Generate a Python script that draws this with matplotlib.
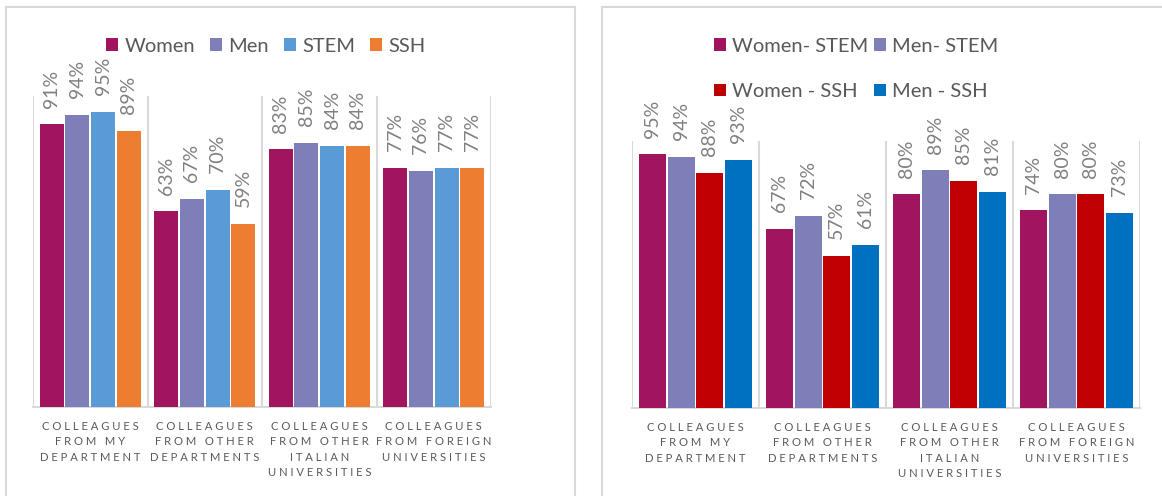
import matplotlib
matplotlib.use("Agg")
from matplotlib import pyplot as plt
from matplotlib.patches import Rectangle

plt.rcParams['font.family'] = ['Lato', 'DejaVu Sans']

categorias = ["COLLEAGUES\nFROM MY\nDEPARTMENT",
              "COLLEAGUES\nFROM OTHER\nDEPARTMENTS",
              "COLLEAGUES\nFROM OTHER\nITALIAN\nUNIVERSITIES",
              "COLLEAGUES\nFROM FOREIGN\nUNIVERSITIES"]

# panel izquierdo
series_izq = ["Women", "Men", "STEM", "SSH"]
women = [0.91, 0.63, 0.83, 0.77]
men = [0.94, 0.67, 0.85, 0.76]
stem = [0.95, 0.70, 0.84, 0.77]
ssh = [0.89, 0.59, 0.84, 0.77]
colores_izq = ["#A0155E", "#7E7EB8", "#5B9BD5", "#ED7D31"]

# panel derecho
series_der = ["Women- STEM", "Men- STEM", "Women - SSH", "Men - SSH"]
women_stem = [0.95, 0.67, 0.80, 0.74]
men_stem = [0.94, 0.72, 0.89, 0.80]
women_ssh = [0.88, 0.57, 0.85, 0.80]
men_ssh = [0.93, 0.61, 0.81, 0.73]
colores_der = ["#A0155E", "#7E7EB8", "#C00000", "#0070C0"]

W, H = 1162, 496
fig = plt.figure(figsize=(W / 100, H / 100), dpi=100)

# marcos de los paneles
fig.patches.append(Rectangle((6 / W, -0.1), (575 - 6) / W, 1.1 - 7 / H,
                             transform=fig.transFigure, fill=False,
                             edgecolor="#d9d9d9", lw=1.5))
fig.patches.append(Rectangle((602 / W, -0.1), 0.6, 1.1 - 7 / H,
                             transform=fig.transFigure, fill=False,
                             edgecolor="#d9d9d9", lw=1.5))


def espaciar(texto):
    lineas = []
    for linea in texto.split("\n"):
        palabras = [" ".join(p) for p in linea.split(" ")]
        lineas.append("   ".join(palabras))
    return "\n".join(lineas)


def dibuja(ax, datos, nombres, colores):
    n = len(datos)
    paso = 0.224
    barras = []
    for i, (vals, nom, col) in enumerate(zip(datos, nombres, colores)):
        xs = [c + (i - (n - 1) / 2) * paso for c in range(len(categorias))]
        b = ax.bar(xs, vals, width=0.21, color=col, label=nom, zorder=3)
        barras.append(b)
        for x, v in zip(xs, vals):
            ax.annotate("{:.0f}%".format(v * 100), (x, v), xytext=(0, 12),
                        textcoords="offset points", rotation=90,
                        ha="center", va="bottom", fontsize=14,
                        color="#808080")
    ax.set_xlim(-0.5, len(categorias) - 0.5)
    ax.set_ylim(0, 1.0)
    for s in ["top", "left", "right"]:
        ax.spines[s].set_visible(False)
    ax.spines["bottom"].set_color("#d9d9d9")
    ax.spines["bottom"].set_linewidth(1.5)
    for k in range(len(categorias) + 1):
        ax.axvline(k - 0.5, color="#d9d9d9", lw=1.5, zorder=1)
    ax.set_yticks([])
    ax.set_xticks(range(len(categorias)))
    ax.set_xticklabels([espaciar(c) for c in categorias], fontsize=8.1,
                       color="#595959", linespacing=1.5)
    ax.tick_params(axis="x", length=0, pad=10)
    return barras


ax1 = fig.add_axes([33 / W, (H - 407) / H, 458 / W, 310.6 / H])
b1 = dibuja(ax1, [women, men, stem, ssh], series_izq, colores_izq)
ax1.legend(ncol=4, loc="center", bbox_to_anchor=(266 / W, 1 - 46 / H),
           bbox_transform=fig.transFigure, frameon=False, fontsize=14.5,
           handlelength=0.6, handleheight=0.6, handletextpad=0.3,
           columnspacing=0.75, labelcolor="#595959")

ax2 = fig.add_axes([632 / W, (H - 408) / H, 508 / W, 267 / H])
b2 = dibuja(ax2, [women_stem, men_stem, women_ssh, men_ssh], series_der, colores_der)
orden = [0, 2, 1, 3]
ax2.legend([b2[i] for i in orden], [series_der[i] for i in orden], ncol=2,
           loc="center", bbox_to_anchor=(856 / W, 1 - 69 / H),
           bbox_transform=fig.transFigure, frameon=False, fontsize=14.5,
           handlelength=0.6, handleheight=0.6, handletextpad=0.3,
           columnspacing=0.3, labelspacing=1.4, labelcolor="#595959")

fig.savefig("out.png", dpi=100)
